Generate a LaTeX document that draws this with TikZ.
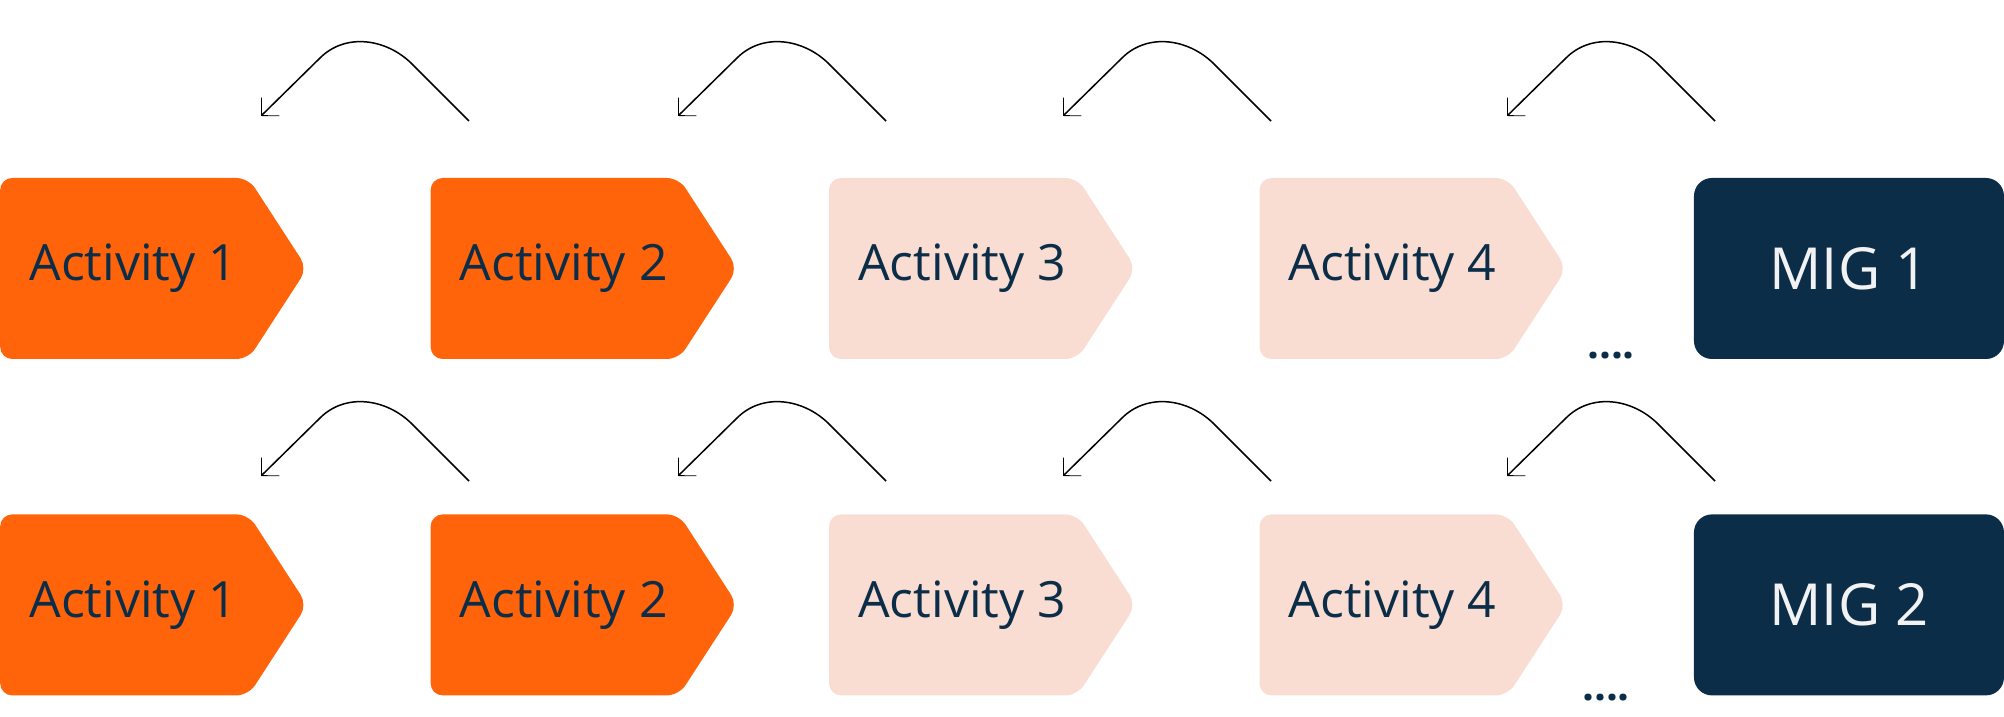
\documentclass[tikz,border=0pt]{standalone}
\usepackage{fontspec}
\setmainfont{Open Sans}
\usetikzlibrary{shapes.symbols,arrows.meta,positioning}
\definecolor{actorange}{HTML}{FF640A}
\definecolor{actpink}{HTML}{F9DDD2}
\definecolor{mignavy}{HTML}{0C2D48}
\definecolor{miglight}{HTML}{F2F2F2}
\tikzstyle{act}=[signal,signal to=east,signal from=nowhere,signal pointer angle=114,rounded corners=12pt,minimum width=307pt,minimum height=181pt,inner sep=0pt,text=mignavy,font=\fontsize{50}{56}\selectfont,execute at begin node={\hspace*{18pt}}]
\tikzstyle{done}=[act,fill=actorange]
\tikzstyle{todo}=[act,fill=actpink]
\tikzstyle{mig}=[rectangle,rounded corners=18pt,fill=mignavy,text=miglight,minimum width=310pt,minimum height=181pt,inner sep=0pt,font=\fontsize{58}{64}\selectfont]
\tikzstyle{more}=[inner sep=0pt,text=mignavy,font=\fontsize{42}{46}\selectfont\bfseries]
\tikzstyle{back}=[line width=1.5pt,-{Straight Barb[angle=90:18pt,line width=0.8pt]}]

\begin{document}
\begin{tikzpicture}[x=1pt,y=1pt]
\useasboundingbox (0,0) rectangle (2004,717);
% first row
\node (a1) [done, anchor=west] at (0,448.5) {Activity 1};
\node (a2) [done, right=123pt of a1] {Activity 2};
\node (a3) [todo, right=91pt of a2] {Activity 3};
\node (a4) [todo, right=123pt of a3] {Activity 4};
\node (m1) [mig, right=127pt of a4] {MIG 1};
\node (d1) [more] at (1611,361) {....};
% second row
\node (b1) [done, below=155pt of a1] {Activity 1};
\node (b2) [done, right=123pt of b1] {Activity 2};
\node (b3) [todo, right=91pt of b2] {Activity 3};
\node (b4) [todo, right=123pt of b3] {Activity 4};
\node (m2) [mig, right=127pt of b4] {MIG 2};
\node (d2) [more] at (1606,19) {....};
% curved arrows above the boxes
\foreach \x/\n in {261/1,678/2,1063/3,1507/4}{
  \coordinate (p\n) at (\x+208,596);
  \coordinate (q\n) at (\x,601);
  \draw [back] (p\n) -- ++(-57,57) to[out=135,in=45] ++(-92,6) -- (q\n);
  \coordinate (r\n) at (\x+208,236);
  \coordinate (t\n) at (\x,241);
  \draw [back] (r\n) -- ++(-57,57) to[out=135,in=45] ++(-92,6) -- (t\n);
}
\end{tikzpicture}
\end{document}
